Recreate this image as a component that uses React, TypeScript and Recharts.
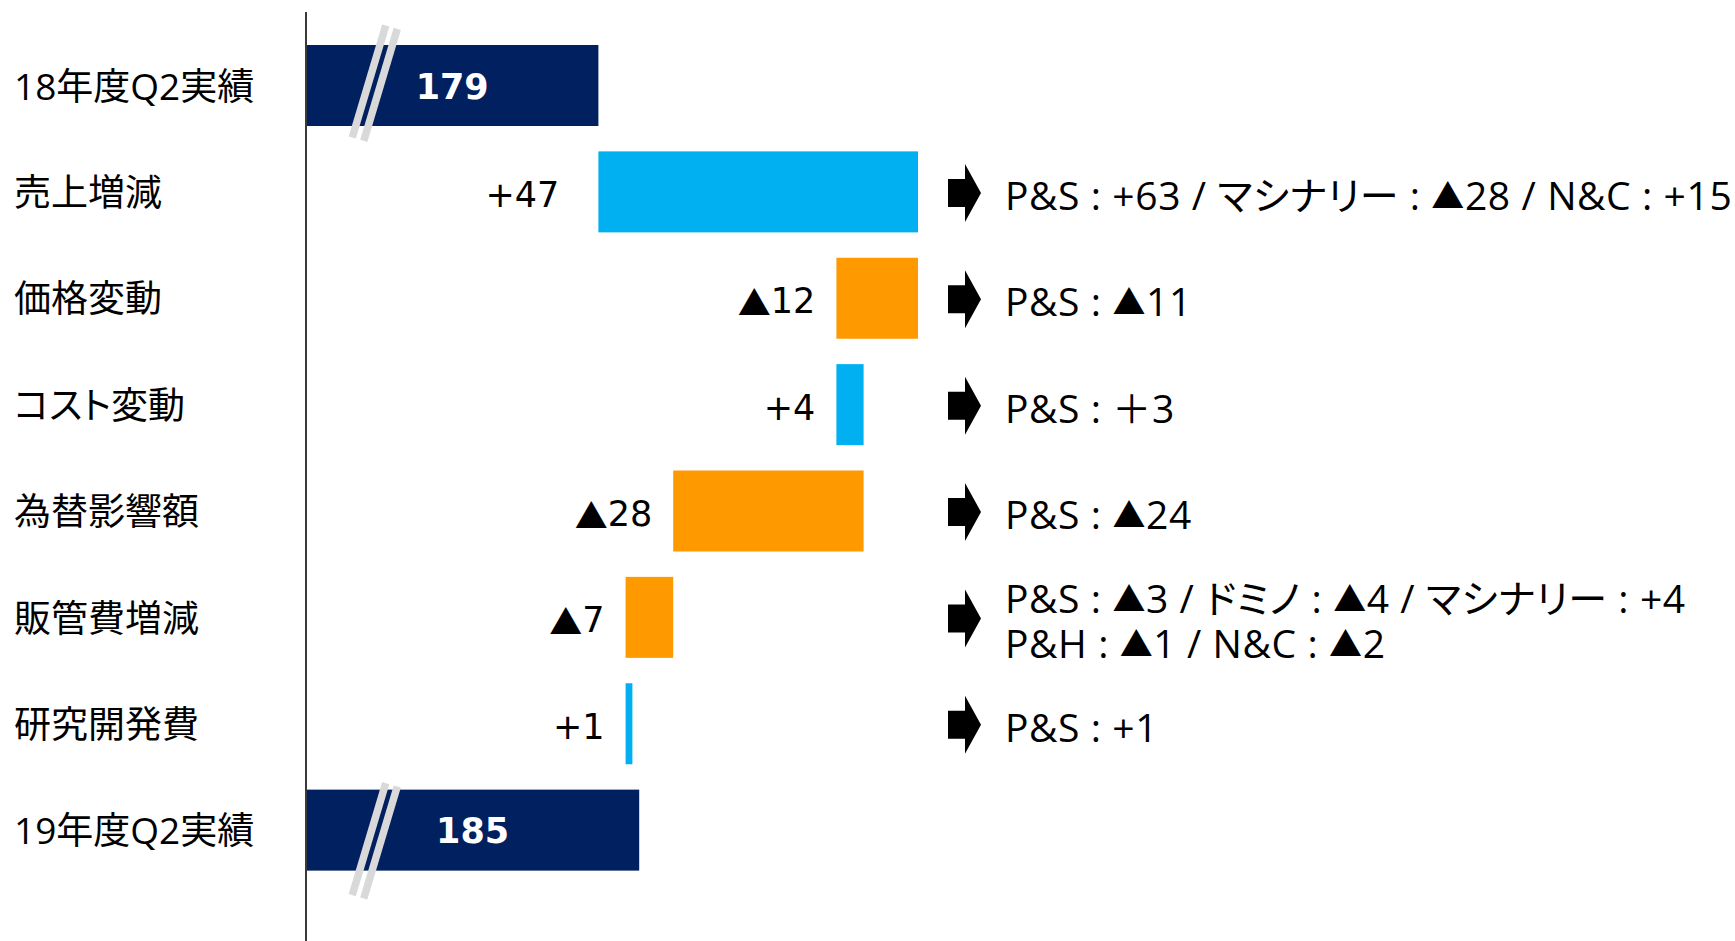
import React from 'react';
import { BarChart, Bar, XAxis, YAxis, LabelList } from 'recharts';

// waterfall: 18年度Q2 -> 19年度Q2 (億円)
const categories = ['18年度Q2実績', '売上増減', '価格変動', 'コスト変動', '為替影響額', '販管費増減', '研究開発費', '19年度Q2実績'];
const startTotal = 179;
const endTotal = 185;
const deltas = [47, -12, 4, -28, -7, 1];
const deltaLabels = ['+47', '▲12', '+4', '▲28', '▲7', '+1'];
const notes = [
  ['P&S : +63 / マシナリー : ▲28 / N&C : +15'],
  ['P&S : ▲11'],
  ['P&S : ＋3'],
  ['P&S : ▲24'],
  ['P&S : ▲3 / ドミノ : ▲4 / マシナリー : +4', 'P&H : ▲1 / N&C : ▲2'],
  ['P&S : +1'],
];
// the value axis is broken (starts here, not at 0)
const axisBreak = 136;
const axisMax = 341;

const NAVY = '#002060';
const UP = '#00B0F0';
const DOWN = '#FF9900';
const JP = "'Open Sans', 'Noto Sans CJK JP', sans-serif";
const NUM = "'DejaVu Sans', 'Noto Sans CJK JP', sans-serif";
const TRI = "'Noto Sans CJK JP', sans-serif";
const palt = { fontFeatureSettings: '"palt"' };

type Row = { name: string; range: [number, number]; kind: 'total' | 'up' | 'down'; label: string; idx: number };

const rows: Row[] = (() => {
  const out: Row[] = [];
  let running = startTotal;
  out.push({ name: categories[0], range: [axisBreak, startTotal], kind: 'total', label: String(startTotal), idx: 0 });
  deltas.forEach((d, i) => {
    const next = running + d;
    out.push({
      name: categories[i + 1],
      range: [Math.min(running, next), Math.max(running, next)],
      kind: d >= 0 ? 'up' : 'down',
      label: deltaLabels[i],
      idx: i + 1,
    });
    running = next;
  });
  out.push({ name: categories[7], range: [axisBreak, endTotal], kind: 'total', label: String(endTotal), idx: 7 });
  return out;
})();

const colorOf = (k: Row['kind']) => (k === 'total' ? NAVY : k === 'up' ? UP : DOWN);

// split out ▲ so it can be drawn smaller than the full-width glyph
const withTriangles = (s: string, triSize: number) =>
  s.split(/(▲)/).filter(Boolean).map((part, i) =>
    part === '▲' ? (
      <tspan key={i} fontFamily={TRI} fontSize={triSize}>▲</tspan>
    ) : (
      <tspan key={i}>{part}</tspan>
    ),
  );

const BarShape = (props: any) => {
  const { x, y, width, height, payload } = props;
  const fill = colorOf(payload.kind);
  if (payload.kind !== 'total') {
    return <rect x={x} y={y} width={width} height={height} fill={fill} />;
  }
  // axis-break marks
  const mx = x + 63;
  const my = y + height / 2 + (payload.idx === 0 ? -4 : 9);
  const hx = 16.75;
  const hy = 56;
  return (
    <g>
      <rect x={x} y={y} width={width} height={height} fill={fill} />
      {[0, 1].map((k) => (
        <line
          key={k}
          x1={mx + hx + k * 11.5}
          y1={my - hy + k * 3.4}
          x2={mx - hx + k * 11.5}
          y2={my + hy + k * 3.4}
          stroke="#D9D9D9"
          strokeWidth={7.5}
        />
      ))}
    </g>
  );
};

const ValueLabel = (props: any) => {
  const vb = props.viewBox ?? props;
  const { x, y, width, height } = vb;
  const row = rows[props.value as number];
  if (!row) return null;
  const cy = y + height / 2;
  if (row.kind === 'total') {
    return (
      <text x={x + width / 2} y={cy + 1} textAnchor="middle" dominantBaseline="central" fill="#fff" fontFamily={NUM} fontWeight="bold" fontSize={35}>
        {row.label}
      </text>
    );
  }
  const gap = row.idx === 1 ? 39 : 21;
  const lines = notes[row.idx - 1];
  const ax = 948;
  const ay = cy + 1;
  return (
    <g>
      <text x={x - gap} y={cy + 3} textAnchor="end" dominantBaseline="central" fill="#000" fontFamily={NUM} fontSize={35}>
        {withTriangles(row.label, 33)}
      </text>
      <polygon
        points={`${ax},${ay - 14} ${ax + 17},${ay - 14} ${ax + 17},${ay - 29} ${ax + 33},${ay} ${ax + 17},${ay + 29} ${ax + 17},${ay + 14} ${ax},${ay + 14}`}
        fill="#000"
      />
      {lines.map((t, i) => (
        <text
          key={i}
          x={1005}
          y={cy + 2 + (i - (lines.length - 1) / 2) * 45}
          dominantBaseline="central"
          fill="#000"
          fontFamily={JP}
          fontSize={39}
          letterSpacing={0.6}
          style={palt}
        >
          {withTriangles(t, 33)}
        </text>
      ))}
    </g>
  );
};

const CategoryTick = (props: any) => {
  const { y, payload } = props;
  return (
    <text x={14} y={y} dominantBaseline="central" fill="#000" fontFamily={JP} fontSize={37} style={palt}>
      {payload.value}
    </text>
  );
};

export default function App() {
  return (
    <div style={{ position: 'absolute', left: 0, top: 0, width: 1735, height: 941, background: '#fff' }}>
      <BarChart
        width={1735}
        height={941}
        data={rows}
        layout="vertical"
        margin={{ top: 12, right: 35, bottom: 0, left: 0 }}
      >
        <XAxis type="number" domain={[axisBreak, axisMax]} allowDataOverflow hide />
        <YAxis
          type="category"
          dataKey="name"
          width={306}
          interval={0}
          tickLine={false}
          axisLine={{ stroke: '#3A3A3A', strokeWidth: 2 }}
          padding={{ top: 20, bottom: 58 }}
          tick={<CategoryTick />}
        />
        <Bar dataKey="range" barSize={81} shape={<BarShape />} isAnimationActive={false}>
          <LabelList dataKey="idx" content={<ValueLabel />} />
        </Bar>
      </BarChart>
    </div>
  );
}
